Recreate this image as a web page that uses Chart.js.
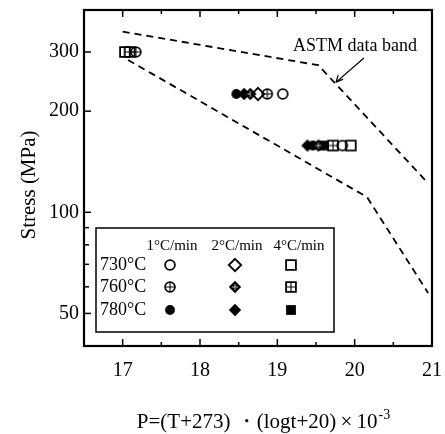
<!DOCTYPE html>
<html>
<head>
<meta charset="utf-8">
<script src="https://cdn.jsdelivr.net/npm/chart.js@4.4.1/dist/chart.umd.min.js"></script>
<style>
  html, body { margin: 0; padding: 0; background: #fff; }
  #wrap { width: 445px; height: 434px; }
</style>
</head>
<body>
<div id="wrap"><canvas id="chart" width="445" height="434"></canvas></div>
<script>
// axes
const xTicks = [17, 17.5, 18, 18.5, 19, 19.5, 20, 20.5, 21];
const yTicks = [50, 60, 70, 80, 90, 100, 200, 300];
const yLabels = [50, 100, 200, 300];

const temps = ['730°C', '760°C', '780°C'];
const rates = ['1°C/min', '2°C/min', '4°C/min'];

// 730°C
const p730r1 = [19.07, 19.84]; const s730r1 = [225, 158];
const p730r2 = [18.75];        const s730r2 = [225];
const p730r4 = [17.03, 19.95]; const s730r4 = [300, 158];
// 760°C
const p760r1 = [17.17, 18.87]; const s760r1 = [300, 225];
const p760r2 = [18.65, 19.53]; const s760r2 = [225, 158];
const p760r4 = [17.09, 19.72]; const s760r4 = [300, 158];
// 780°C
const p780r1 = [18.47, 19.46]; const s780r1 = [225, 158];
const p780r2 = [18.57, 19.39]; const s780r2 = [225, 158];
const p780r4 = [19.60];        const s780r4 = [158];

// ASTM data band limits
const bandUpperP = [17.0, 19.53, 20.95]; const bandUpperS = [345, 274, 122];
const bandLowerP = [17.07, 20.16, 20.95]; const bandLowerS = [284, 111, 57.5];

const serif = "'Liberation Serif', 'Times New Roman', serif";

// marker images (open / filled / with a cross inside)
const makeSymbol = (shape, fill, plus) => {
    const size = 16, m = size / 2;
    const c = document.createElement('canvas');
    c.width = size; c.height = size;
    const g = c.getContext('2d');
    g.lineWidth = 1.8; g.strokeStyle = '#000'; g.fillStyle = '#000';
    g.beginPath();
    let r = 4.9;
    if (shape === 'circle') g.arc(m, m, r, 0, Math.PI * 2);
    if (shape === 'square') g.rect(m - r, m - r, r * 2, r * 2);
    if (shape === 'diamond') {
        r = 6.2;
        g.moveTo(m, m - r); g.lineTo(m + r, m); g.lineTo(m, m + r); g.lineTo(m - r, m); g.closePath();
    }
    if (fill) g.fill(); else g.stroke();
    if (plus) {
        g.strokeStyle = fill ? '#fff' : '#000';
        g.lineWidth = fill ? 0.7 : 1.1;
        const k = fill ? 3 : r - 1;
        g.beginPath();
        g.moveTo(m - k, m); g.lineTo(m + k, m);
        g.moveTo(m, m - k); g.lineTo(m, m + k);
        g.stroke();
    }
    return c;
};

const sym = {
    '730_1': makeSymbol('circle', false, false),
    '730_2': makeSymbol('diamond', false, false),
    '730_4': makeSymbol('square', false, false),
    '760_1': makeSymbol('circle', false, true),
    '760_2': makeSymbol('diamond', true, true),
    '760_4': makeSymbol('square', false, true),
    '780_1': makeSymbol('circle', true, false),
    '780_2': makeSymbol('diamond', true, false),
    '780_4': makeSymbol('square', true, false)
};

const points = (label, xs, ys, img) => ({
    label,
    data: xs.map((x, i) => ({ x, y: ys[i] })),
    pointStyle: img,
    pointRadius: 6,
    order: 1
});

const band = (label, xs, ys) => ({
    type: 'line',
    label,
    data: xs.map((x, i) => ({ x, y: ys[i] })),
    borderColor: '#000',
    borderWidth: 1.8,
    borderDash: [7, 5],
    pointRadius: 0,
    fill: false,
    tension: 0,
    order: 10
});

// frame, inward ticks, titles, annotation and the boxed legend
const decorations = {
    id: 'decorations',
    afterDraw(chart) {
        const { ctx, chartArea: a, scales: { x, y } } = chart;
        ctx.save();
        ctx.strokeStyle = '#000';
        ctx.fillStyle = '#000';

        const seg = (x1, y1, x2, y2) => { ctx.beginPath(); ctx.moveTo(x1, y1); ctx.lineTo(x2, y2); ctx.stroke(); };

        ctx.lineWidth = 1.5;
        xTicks.forEach(v => {
            const px = x.getPixelForValue(v);
            const len = Number.isInteger(v) ? 7 : 4;
            seg(px, a.bottom, px, a.bottom - len);
            seg(px, a.top, px, a.top + len);
        });
        yTicks.forEach(v => {
            const py = y.getPixelForValue(v);
            const len = yLabels.includes(v) ? 7 : 5;
            seg(a.left, py, a.left + len, py);
        });
        ctx.lineWidth = 2.2;
        ctx.strokeRect(a.left, a.top, a.right - a.left, a.bottom - a.top);

        // ASTM label + arrow
        ctx.font = `18px ${serif}`;
        ctx.textAlign = 'left';
        ctx.textBaseline = 'alphabetic';
        ctx.fillText('ASTM data band', 293, 51);
        const tx = x.getPixelForValue(19.76), ty = y.getPixelForValue(244);
        const fx = x.getPixelForValue(20.12), fy = y.getPixelForValue(288);
        ctx.lineWidth = 1.3;
        seg(fx, fy, tx, ty);
        seg(tx, ty, tx + 2, ty - 7);
        seg(tx, ty, tx + 7, ty - 3);

        // legend box
        ctx.lineWidth = 1.5;
        ctx.strokeRect(96, 228, 238, 104);
        ctx.font = `15px ${serif}`;
        ctx.textAlign = 'center';
        ctx.textBaseline = 'middle';
        const heads = [172, 237, 299];
        const cols = [170, 235, 291];
        const rows = [265, 287, 310];
        rates.forEach((r, i) => ctx.fillText(r, heads[i], 246));
        ctx.font = `18px ${serif}`;
        ctx.textAlign = 'left';
        temps.forEach((t, j) => {
            ctx.fillText(t, 100, rows[j]);
            ['1', '2', '4'].forEach((r, i) => {
                const img = sym[t.slice(0, 3) + '_' + r];
                ctx.drawImage(img, cols[i] - img.width / 2, rows[j] - img.height / 2);
            });
        });

        // axis titles
        const main = 'P=(T+273) \u30FB(logt+20)\u2009\u00D7\u200910';
        ctx.font = `21px ${serif}`;
        const w1 = ctx.measureText(main).width;
        ctx.font = `14px ${serif}`;
        const w2 = ctx.measureText('-3').width;
        const sx = 263 - (w1 + w2) / 2;
        ctx.textAlign = 'left';
        ctx.textBaseline = 'alphabetic';
        ctx.font = `21px ${serif}`;
        ctx.fillText(main, sx, 428);
        ctx.font = `14px ${serif}`;
        ctx.fillText('-3', sx + w1 + 1, 419);

        ctx.translate(29, 185);
        ctx.rotate(-Math.PI / 2);
        ctx.textAlign = 'center';
        ctx.textBaseline = 'middle';
        ctx.font = `21px ${serif}`;
        ctx.fillText('Stress (MPa)', 0, 0);
        ctx.restore();
    }
};

new Chart(document.getElementById('chart'), {
    type: 'scatter',
    data: {
        datasets: [
            points('730°C 1°C/min', p730r1, s730r1, sym['730_1']),
            points('730°C 2°C/min', p730r2, s730r2, sym['730_2']),
            points('730°C 4°C/min', p730r4, s730r4, sym['730_4']),
            points('760°C 1°C/min', p760r1, s760r1, sym['760_1']),
            points('760°C 2°C/min', p760r2, s760r2, sym['760_2']),
            points('760°C 4°C/min', p760r4, s760r4, sym['760_4']),
            points('780°C 1°C/min', p780r1, s780r1, sym['780_1']),
            points('780°C 2°C/min', p780r2, s780r2, sym['780_2']),
            points('780°C 4°C/min', p780r4, s780r4, sym['780_4']),
            band('ASTM upper', bandUpperP, bandUpperS),
            band('ASTM lower', bandLowerP, bandLowerS)
        ]
    },
    options: {
        responsive: false,
        animation: false,
        devicePixelRatio: 1,
        layout: { padding: { left: 0, right: 13, top: 10, bottom: 0 } },
        plugins: { legend: { display: false }, tooltip: { enabled: false } },
        scales: {
            x: {
                type: 'linear',
                min: 16.5,
                max: 21,
                afterFit: s => { s.height = 88; s.paddingLeft = 0; s.paddingRight = 0; },
                afterBuildTicks: s => { s.ticks = xTicks.map(v => ({ value: v })); },
                grid: { display: false, drawTicks: false },
                border: { display: false },
                ticks: {
                    autoSkip: false,
                    maxRotation: 0,
                    padding: 13,
                    color: '#000',
                    font: { family: serif, size: 20 },
                    callback: v => Number.isInteger(v) ? String(v) : ''
                }
            },
            y: {
                type: 'logarithmic',
                min: 40,
                max: 400,
                afterFit: s => { s.width = 84; s.paddingTop = 0; s.paddingBottom = 0; },
                afterBuildTicks: s => { s.ticks = yTicks.map(v => ({ value: v })); },
                grid: { display: false, drawTicks: false },
                border: { display: false },
                ticks: {
                    autoSkip: false,
                    padding: 5,
                    color: '#000',
                    font: { family: serif, size: 20 },
                    callback: v => yLabels.includes(v) ? String(v) : ''
                }
            }
        }
    },
    plugins: [decorations]
});
</script>
</body>
</html>
